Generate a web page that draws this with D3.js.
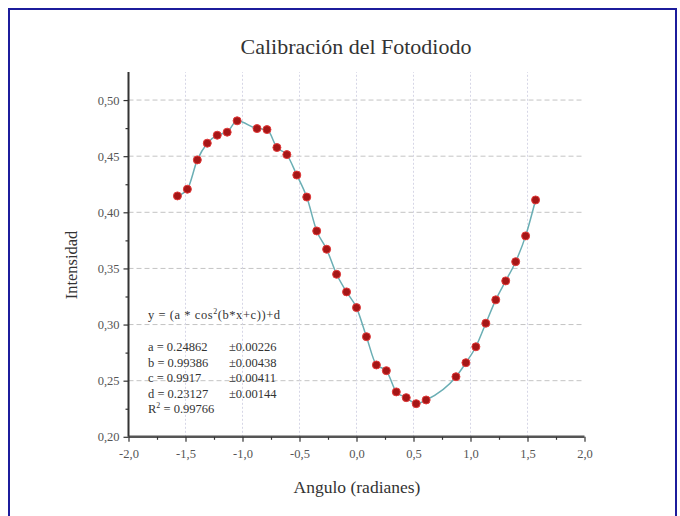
<!DOCTYPE html>
<html>
<head>
<meta charset="utf-8">
<script src="https://cdn.jsdelivr.net/npm/d3@7"></script>
<style>
  body { margin: 0; background: #fff; }
  svg { display: block; font-family: "Liberation Serif", "DejaVu Serif", serif; }
</style>
</head>
<body>
<svg id="chart" width="680" height="516"></svg>
<script>
// angle in degrees (plotted as radians), measured intensity
var angles = [-90, -85, -80, -75, -70, -65, -60, -50, -45, -40, -35, -30, -25, -20, -15, -10, -5,
  0, 5, 10, 15, 20, 25, 30, 35, 50, 55, 60, 65, 70, 75, 80, 85, 90];
var intensity = [0.4146, 0.4206, 0.4467, 0.4616, 0.4687, 0.4714, 0.4815, 0.4746, 0.4737, 0.4577,
  0.4514, 0.4332, 0.4136, 0.3834, 0.3671, 0.3448, 0.3291, 0.3151, 0.2892, 0.2640, 0.2589, 0.2400,
  0.2349, 0.2295, 0.2328, 0.2535, 0.2660, 0.2802, 0.3012, 0.3220, 0.3389, 0.3560, 0.3790, 0.4110];

var xTicks = [-2.0, -1.5, -1.0, -0.5, 0.0, 0.5, 1.0, 1.5, 2.0];
var yTicks = [0.20, 0.25, 0.30, 0.35, 0.40, 0.45, 0.50];

var fitLines = [
  ["a = 0.24862", "\u00b10.00226"],
  ["b = 0.99386", "\u00b10.00438"],
  ["c = 0.9917", "\u00b10.00411"],
  ["d = 0.23127", "\u00b10.00144"]
];
var r2 = "0.99766";

var data = angles.map((a, i) => ({x: a * Math.PI / 180, y: intensity[i]}));

var svg = d3.select("#chart");

/* marco azul */
svg.append("rect")
  .attr("x", 9).attr("y", 9)
  .attr("width", 667).attr("height", 520)
  .attr("fill", "none")
  .attr("stroke", "#1c1c9c")
  .attr("stroke-width", 2);

var x = d3.scaleLinear().domain([-2, 2]).range([128.5, 584.5]);
var y = d3.scaleLinear().domain([0.2, 0.525]).range([436.8, 72]);

/* rejilla */
svg.append("g").selectAll("line")
  .data(yTicks.filter(d => d > 0.2))
  .enter().append("line")
  .attr("x1", x(-2)).attr("x2", x(2))
  .attr("y1", d => y(d)).attr("y2", d => y(d))
  .attr("stroke", "#c4c4c4")
  .attr("stroke-dasharray", "5,3");

svg.append("g").selectAll("line")
  .data(xTicks.filter(d => d > -2 && d < 2))
  .enter().append("line")
  .attr("x1", d => x(d)).attr("x2", d => x(d))
  .attr("y1", y(0.2)).attr("y2", y(0.525))
  .attr("stroke", "#d6d6e6")
  .attr("stroke-dasharray", "2,2");

/* texto del ajuste */
var note = svg.append("g").attr("font-size", 12.5).attr("fill", "#333");
note.append("text")
  .attr("x", 148).attr("y", 319)
  .attr("textLength", 132)
  .html('y = (a * cos<tspan dy="-5" font-size="8">2</tspan><tspan dy="5">(b*x+c))+d</tspan>');

note.selectAll("text.par")
  .data(fitLines)
  .enter().append("text")
  .attr("class", "par")
  .attr("x", 148)
  .attr("y", (d, i) => 351 + i * 15.5)
  .text(d => d[0]);

note.selectAll("text.err")
  .data(fitLines)
  .enter().append("text")
  .attr("class", "err")
  .attr("x", 229)
  .attr("y", (d, i) => 351 + i * 15.5)
  .text(d => d[1]);

note.append("text")
  .attr("x", 148).attr("y", 413)
  .html('R<tspan dy="-5" font-size="8">2</tspan><tspan dy="5"> =  ' + r2 + '</tspan>');

/* ejes */
var xAxis = svg.append("g")
  .attr("transform", `translate(0,${y(0.2)})`)
  .call(d3.axisBottom(x).tickValues(xTicks).tickSize(5).tickPadding(7)
    .tickFormat(d => d3.format(".1f")(d).replace(".", ",").replace("−", "-")));
svg.append("g")
  .attr("transform", `translate(0,${y(0.2)})`)
  .call(d3.axisBottom(x).tickValues(d3.range(-1.75, 2, 0.5)).tickSize(3).tickFormat(""))
  .call(g => g.select(".domain").remove());

var yAxis = svg.append("g")
  .attr("transform", `translate(${x(-2)},0)`)
  .call(d3.axisLeft(y).tickValues(yTicks).tickSize(5).tickPadding(4)
    .tickFormat(d => d3.format(".2f")(d).replace(".", ",")));
svg.append("g")
  .attr("transform", `translate(${x(-2)},0)`)
  .call(d3.axisLeft(y).tickValues(d3.range(0.225, 0.52, 0.05)).tickSize(3).tickFormat(""))
  .call(g => g.select(".domain").remove());

xAxis.select(".domain").attr("d", `M${x(-2)},0H${x(2)}`).attr("stroke", "#555").attr("stroke-width", 2.5);
yAxis.select(".domain").attr("d", `M0,${y(0.525)}V${y(0.2)}`).attr("stroke", "#333").attr("stroke-width", 2);

svg.selectAll(".tick line").attr("stroke", "#333").attr("stroke-width", 1.2);
svg.selectAll(".tick text")
  .attr("font-family", "Liberation Serif, serif")
  .attr("font-size", 12.5)
  .attr("fill", "#555");

/* línea y puntos */
svg.append("path")
  .datum(data)
  .attr("fill", "none")
  .attr("stroke", "#6aaeb4")
  .attr("stroke-width", 1.5)
  .attr("d", d3.line().x(d => x(d.x)).y(d => y(d.y)).curve(d3.curveMonotoneX));

svg.append("g").selectAll("circle")
  .data(data)
  .enter().append("circle")
  .attr("cx", d => x(d.x))
  .attr("cy", d => y(d.y))
  .attr("r", 4)
  .attr("fill", "#a51616")
  .attr("stroke", "#e23a3a")
  .attr("stroke-width", 1);

/* títulos */
svg.append("text")
  .attr("x", 356).attr("y", 54)
  .attr("text-anchor", "middle")
  .attr("font-size", 22)
  .attr("fill", "#333")
  .text("Calibración del Fotodiodo");

svg.append("text")
  .attr("x", 357).attr("y", 493)
  .attr("text-anchor", "middle")
  .attr("font-size", 17.5)
  .attr("fill", "#333")
  .text("Angulo (radianes)");

svg.append("text")
  .attr("transform", "translate(77,265) rotate(-90)")
  .attr("text-anchor", "middle")
  .attr("font-size", 16.5)
  .attr("fill", "#333")
  .text("Intensidad");
</script>
</body>
</html>
